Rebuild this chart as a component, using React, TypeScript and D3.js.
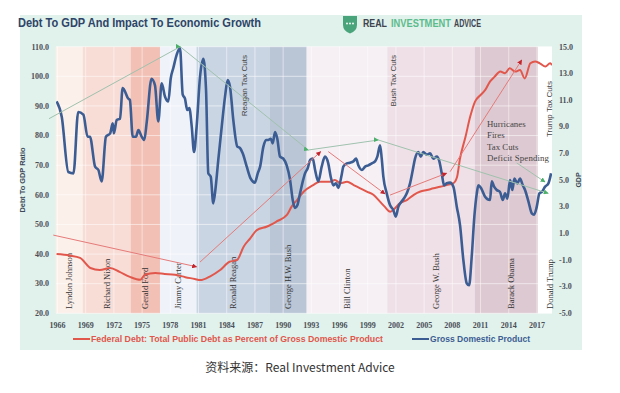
import React from 'react';
import * as d3 from 'd3';

// presidential terms as shaded in the chart
const presidents = ['Lyndon Johnson', 'Richard Nixon', 'Gerald Ford', 'Jimmy Carter', 'Ronald Reagan',
  'George H.W. Bush', 'Bill Clinton', 'George W. Bush', 'Barack Obama', 'Donald Trump'];
const termStart = [1965.8, 1968.7, 1973.8, 1976.9, 1980.8, 1988.6, 1992.5, 2001.1, 2010.4, 2017.1];
const termEnd = [1968.7, 1973.8, 1976.9, 1980.8, 1988.6, 1992.5, 2001.1, 2010.4, 2017.1, 2018.6];

// Federal debt as % of GDP (left axis)
const debtYears = [1965.9, 1967.3, 1968.4, 1969.5, 1970.5, 1971.6, 1972.6, 1973.7, 1974.8, 1975.3,
  1976.4, 1977.4, 1978.5, 1979.6, 1980.6, 1981.2, 1982.2, 1983.3, 1984.3, 1985.1, 1985.8, 1986.5,
  1987.2, 1988.3, 1989.3, 1990.4, 1990.9, 1991.5, 1992.2, 1993.2, 1993.9, 1995.0, 1995.5, 1996.1,
  1996.8, 1997.5, 1998.2, 1998.9, 1999.6, 2000.3, 2000.8, 2001.4, 2001.9, 2002.4, 2003.2, 2003.9,
  2004.6, 2005.3, 2006.0, 2006.7, 2007.4, 2008.1, 2008.5, 2008.8, 2009.4, 2009.9, 2010.4, 2011.0,
  2011.5, 2012.0, 2012.5, 2013.1, 2013.6, 2014.1, 2014.7, 2015.2, 2015.7, 2016.3, 2016.8, 2017.3,
  2017.9, 2018.4, 2018.6];
const debtValues = [40, 39.5, 38.7, 35.3, 34.6, 35.3, 34, 32.3, 31.3, 33,
  33.6, 33.3, 33, 32.2, 31.6, 31.2, 32.4, 34.6, 37.4, 38, 42.5, 45.3,
  48.1, 49.3, 51, 53.2, 56, 58.3, 61.1, 63.3, 64.4, 64.4, 65, 63.9,
  64.4, 63.3, 62.2, 61.1, 60, 57.7, 56, 54.3, 55.5, 57.1, 58.3, 60,
  61.1, 61.6, 62.2, 62.7, 63.3, 63.9, 66, 72, 79.6, 86.4, 91.4, 93.7,
  95.4, 98.2, 99.9, 101.6, 101, 102.7, 101.6, 102.1, 99.3, 104.4, 105, 104.4,
  103.3, 104.4, 103.8];

// Gross domestic product (right axis)
const gdpYears = [1965.9, 1966.45, 1967.15, 1967.7, 1968.2, 1968.75, 1969.2, 1969.45, 1970.0, 1970.35,
  1970.7, 1971.15, 1971.6, 1971.87, 1972.0, 1972.3, 1972.65, 1972.93, 1973.53, 1973.7, 1974.0,
  1974.35, 1974.6, 1974.95, 1975.23, 1975.5, 1976.0, 1976.37, 1976.72, 1977.08, 1977.44, 1977.79,
  1978.04, 1978.32, 1978.68, 1979.03, 1979.32, 1979.56, 1979.8, 1980.02, 1980.28, 1980.52, 1980.8,
  1981.16, 1981.51, 1981.8, 1982.04, 1982.3, 1982.57, 1982.83, 1983.1, 1983.47, 1983.82, 1984.1,
  1984.35, 1984.7, 1985.13, 1985.41, 1985.7, 1986.13, 1986.55, 1987.0, 1987.3, 1987.55, 1987.9,
  1988.18, 1988.43, 1988.68, 1988.89, 1989.14, 1989.38, 1989.67, 1990.02, 1990.38, 1990.74, 1991.02,
  1991.27, 1991.51, 1991.8, 1992.09, 1992.33, 1992.62, 1992.87, 1993.15, 1993.4, 1993.74, 1994.1,
  1994.45, 1994.8, 1995.06, 1995.34, 1995.63, 1995.87, 1996.23, 1996.4, 1996.77, 1997.12, 1997.47,
  1997.76, 1998.0, 1998.37, 1998.72, 1999.06, 1999.43, 1999.78, 2000.02, 2000.31, 2000.49, 2000.66,
  2001.02, 2001.38, 2001.72, 2001.98, 2002.26, 2002.62, 2002.97, 2003.21, 2003.5, 2003.79, 2004.03,
  2004.38, 2004.64, 2004.91, 2005.28, 2005.63, 2005.98, 2006.34, 2006.62, 2006.87, 2007.12, 2007.4,
  2007.76, 2008.11, 2008.47, 2008.82, 2009.17, 2009.53, 2009.78, 2010.06, 2010.34, 2010.6, 2010.77,
  2011.05, 2011.48, 2012.01, 2012.19, 2012.44, 2012.72, 2013.07, 2013.36, 2013.61, 2013.85, 2014.14,
  2014.38, 2014.6, 2014.91, 2015.2, 2015.49, 2015.73, 2016.09, 2016.45, 2016.69, 2016.98, 2017.26,
  2017.51, 2017.87, 2018.22, 2018.5];
const gdpValues = [10.9, 9.75, 5.6, 5.5, 10.1, 9.9, 8.25, 8.25, 6.0, 5.75,
  4.9, 8.25, 8.5, 9.25, 8.5, 9.5, 9.6, 11.9, 11.1, 11.0, 8.25,
  8.25, 8.75, 8.25, 8.0, 9.4, 12.6, 12.1, 9.4, 12.25, 11.25, 10.9,
  12.6, 13.4, 14.4, 14.9, 11.4, 11.1, 10.25, 10.4, 9.0, 7.1, 9.0,
  12.75, 14.1, 11.75, 5.5, 5.25, 3.25, 4.5, 6.5, 9.0, 11.25, 12.5,
  12.0, 9.5, 7.5, 7.4, 7.0, 6.0, 5.1, 4.8, 5.5, 6.0, 7.5,
  8.0, 8.0, 8.1, 7.75, 8.6, 8.1, 6.75, 6.6, 6.1, 5.0, 3.5,
  2.9, 3.1, 4.0, 4.9, 5.5, 5.9, 6.5, 6.6, 5.75, 4.9, 6.0,
  6.75, 6.25, 5.25, 4.6, 4.75, 4.4, 5.4, 6.0, 6.25, 6.3, 6.4,
  6.6, 6.1, 5.75, 6.0, 6.1, 6.25, 6.4, 6.75, 7.6, 6.6, 5.25,
  4.0, 3.1, 2.75, 2.25, 3.0, 3.4, 3.75, 4.1, 4.75, 5.75, 6.6,
  7.1, 6.75, 7.1, 6.9, 7.0, 6.6, 6.75, 6.4, 5.5, 4.6, 4.75,
  4.8, 4.5, 3.0, 1.6, -1.0, -2.75, -2.9, -0.75, 2.25, 4.0, 4.6,
  4.4, 3.75, 3.5, 4.9, 4.5, 4.25, 4.1, 3.5, 4.0, 3.6, 5.0,
  4.25, 5.1, 4.75, 5.1, 4.6, 4.25, 3.4, 2.5, 2.4, 3.0, 4.0,
  4.1, 4.5, 4.75, 5.5];

// trend line through the GDP peaks (right axis)
const gdpTrendYears = [1965.1, 1979.05, 1992.68, 2000.13, 2018.2];
const gdpTrendValues = [9.6, 15.0, 7.25, 8.0, 4.0];
// pointer from the "Deficit Spending" note (right axis)
const noteArrowYears = [2014.85, 2017.86];
const noteArrowValues = [6.28, 4.85];

// red trend arrows on the debt series (left axis)
const debtArrowFromYears = [1965.55, 1981.16, 1994.8, 2001.37, 2007.76];
const debtArrowFromValues = [46.4, 37.3, 74.6, 59.9, 67.8];
const debtArrowToYears = [1980.8, 1994.0, 2000.84, 2007.4, 2015.38];
const debtArrowToValues = [35.7, 74.6, 60.3, 67.3, 105.5];

const leftTicks = [20, 30, 40, 50, 60, 70, 80, 90, 100, 110];
const rightTicks = [-5, -3, -1, 1, 3, 5, 7, 9, 11, 13, 15];
const yearTicks = [1966, 1969, 1972, 1975, 1978, 1981, 1984, 1987, 1990, 1993, 1996, 1999, 2002, 2005, 2008, 2011, 2014, 2017];

const taxCutLabels = ['Reagan Tax Cuts', 'Bush Tax Cuts', 'Trump Tax Cuts'];
const taxCutYears = [1985.9, 2001.7, 2018.3];
const noteLines = ['Hurricanes', 'Fires', 'Tax Cuts', 'Deficit Spending'];

const bandColors = ['#fcf0ea', '#f8dcd6', '#f2c0b5', '#eff2f9', '#cad5e3', '#bac6d6', '#f6f0f5', '#efe0e7', '#ddc9d1', '#ffffff'];

const serif = '"Liberation Serif", "DejaVu Serif", serif';
const sans = '"Liberation Sans", Arial, sans-serif';

export default function App() {
  const left = 56, right = 552, top = 46.7, bottom = 313.3;
  const x = d3.scaleLinear().domain([1965.84, 2018.6]).range([left, right]);
  const yL = d3.scaleLinear().domain([20, 110]).range([bottom, top]);
  const yR = d3.scaleLinear().domain([-5, 15]).range([bottom, top]);

  const debtLine = d3.line<number>()
    .x((_, i) => x(debtYears[i]))
    .y((d) => yL(d))
    .curve(d3.curveMonotoneX);
  const gdpLine = d3.line<number>()
    .x((_, i) => x(gdpYears[i]))
    .y((d) => yR(d))
    .curve(d3.curveMonotoneX);
  const trendLine = d3.line<number>()
    .x((_, i) => x(gdpTrendYears[i]))
    .y((d) => yR(d));

  return (
    <svg width={620} height={393} style={{ position: 'absolute', left: 0, top: 0, background: '#fff' }}>
      <defs>
        <marker id="gArrow" viewBox="0 0 10 10" refX="9" refY="5" markerWidth="5" markerHeight="5" orient="auto">
          <path d="M0,0 L10,5 L0,10 z" fill="#4caf6a" />
        </marker>
        <marker id="rArrow" viewBox="0 0 10 10" refX="9" refY="5" markerWidth="5" markerHeight="5" orient="auto">
          <path d="M0,0 L10,5 L0,10 z" fill="#c4242c" />
        </marker>
        <clipPath id="plotClip">
          <rect x={left} y={top - 4} width={right - left} height={bottom - top + 4} />
        </clipPath>
      </defs>

      {/* mint panel */}
      <rect x={20} y={15} width={562} height={335} fill="#e1f1eb" />

      <text x={18} y={27} fontFamily={sans} fontWeight="bold" fontSize={13.5} fill="#2e4468"
        textLength={243} lengthAdjust="spacingAndGlyphs">Debt To GDP And Impact To Economic Growth</text>

      {/* logo */}
      <path d="M343,16 h14 v9 q0,6 -7,8.5 q-7,-2.5 -7,-8.5 z" fill="#4aa47b" />
      {[347, 350, 353].map((cx) => <circle key={cx} cx={cx} cy={23.5} r={0.9} fill="#fff" />)}
      <text x={363} y={27} fontFamily={sans} fontWeight="bold" fontSize={10} fill="#3d4450"
        textLength={24} lengthAdjust="spacingAndGlyphs">REAL</text>
      <text x={391} y={27} fontFamily={sans} fontWeight="bold" fontSize={10} fill="#5cbb8c"
        textLength={60} lengthAdjust="spacingAndGlyphs">INVESTMENT</text>
      <text x={454} y={27} fontFamily={sans} fontWeight="bold" fontSize={10} fill="#3d4450"
        textLength={27} lengthAdjust="spacingAndGlyphs">ADVICE</text>

      {/* presidential bands */}
      {presidents.map((p, i) => (
        <rect key={p} x={x(termStart[i])} y={top} width={x(termEnd[i]) - x(termStart[i])} height={bottom - top} fill={bandColors[i]} />
      ))}

      {/* gridlines */}
      {leftTicks.map((t) => (
        <line key={'h' + t} x1={left} x2={right} y1={yL(t)} y2={yL(t)} stroke="#fff" strokeOpacity={0.55} />
      ))}
      {yearTicks.map((t) => (
        <line key={'v' + t} x1={x(t)} x2={x(t)} y1={top} y2={bottom} stroke="#fff" strokeOpacity={0.5} />
      ))}

      {/* president names */}
      {presidents.map((p, i) => {
        const cx = (x(termStart[i]) + x(termEnd[i])) / 2 + (i >= 7 ? 5 : 0);
        return (
          <text key={'n' + p} transform={`translate(${cx},309) rotate(-90)`} dy="0.35em" fontFamily={serif}
            fontSize={8.5} fill="#333">{p}</text>
        );
      })}

      {/* tax cut labels */}
      {taxCutLabels.map((t, i) => (
        <text key={t} transform={`translate(${x(taxCutYears[i])},${i === 2 ? 81 : 55}) rotate(-90)`} dy="0.35em"
          textAnchor="end" fontFamily={sans} fontSize={8} fill="#444">{t}</text>
      ))}

      {/* note */}
      {noteLines.map((t, i) => (
        <text key={t} x={487} y={127 + i * 11.3} fontFamily={serif} fontSize={8.8} fill="#454545"
          textLength={i === 3 ? 62 : undefined}>{t}</text>
      ))}

      {/* series */}
      <g clipPath="url(#plotClip)">
        <path d={debtLine(debtValues) || ''} fill="none" stroke="#e2574c" strokeWidth={2} strokeLinejoin="round" />
        <path d={gdpLine(gdpValues) || ''} fill="none" stroke="#3b5d93" strokeWidth={2.6} strokeLinejoin="round" />
      </g>

      {/* GDP trend */}
      <path d={trendLine(gdpTrendValues) || ''} fill="none" stroke="#9fc2ad" strokeWidth={1}
        markerMid="url(#gArrow)" markerEnd="url(#gArrow)" />
      <line x1={x(noteArrowYears[0])} y1={yR(noteArrowValues[0])} x2={x(noteArrowYears[1])} y2={yR(noteArrowValues[1])}
        stroke="#9fc2ad" strokeWidth={1} markerEnd="url(#gArrow)" />

      {/* debt arrows */}
      {debtArrowFromYears.map((yr, i) => (
        <line key={'r' + i} x1={x(yr)} y1={yL(debtArrowFromValues[i])} x2={x(debtArrowToYears[i])} y2={yL(debtArrowToValues[i])}
          stroke="#e57a78" strokeWidth={1} markerEnd="url(#rArrow)" />
      ))}

      {/* left axis */}
      {leftTicks.map((t) => (
        <text key={'l' + t} x={49} y={yL(t)} dy="0.35em" textAnchor="end" fontFamily={serif} fontWeight="bold"
          fontSize={8} fill="#4a4f58">{t.toFixed(1)}</text>
      ))}
      {/* right axis */}
      {rightTicks.map((t) => (
        <text key={'r' + t} x={559} y={yR(t)} dy="0.35em" fontFamily={serif} fontWeight="bold"
          fontSize={8} fill="#4a4f58">{t.toFixed(1)}</text>
      ))}
      {/* bottom axis */}
      {yearTicks.map((t) => (
        <text key={'y' + t} x={x(t)} y={328} textAnchor="middle" fontFamily={serif} fontWeight="bold"
          fontSize={8} fill="#4a4f58">{t}</text>
      ))}

      <text transform="translate(23,180) rotate(-90)" dy="0.35em" textAnchor="middle" fontFamily={sans}
        fontWeight="bold" fontSize={7} fill="#3e4a5a" textLength={65} lengthAdjust="spacingAndGlyphs">Debt To GDP Ratio</text>
      <text transform="translate(579,180) rotate(-90)" dy="0.35em" textAnchor="middle" fontFamily={sans}
        fontWeight="bold" fontSize={7} fill="#3e4a5a">GDP</text>

      {/* legend */}
      <line x1={73} x2={90} y1={339} y2={339} stroke="#e2574c" strokeWidth={2} />
      <text x={91} y={342} fontFamily={sans} fontWeight="bold" fontSize={9} fill="#e0564c"
        textLength={292} lengthAdjust="spacingAndGlyphs">Federal Debt: Total Public Debt as Percent of Gross Domestic Product</text>
      <line x1={412} x2={429} y1={339} y2={339} stroke="#3b5d93" strokeWidth={2} />
      <text x={430} y={342} fontFamily={sans} fontWeight="bold" fontSize={9} fill="#3b5d93"
        textLength={100} lengthAdjust="spacingAndGlyphs">Gross Domestic Product</text>

      <text x={300} y={372} textAnchor="middle" fontFamily={'"Noto Sans CJK SC", sans-serif'} fontSize={12}
        fill="#333">资料来源：Real Investment Advice</text>
    </svg>
  );
}
